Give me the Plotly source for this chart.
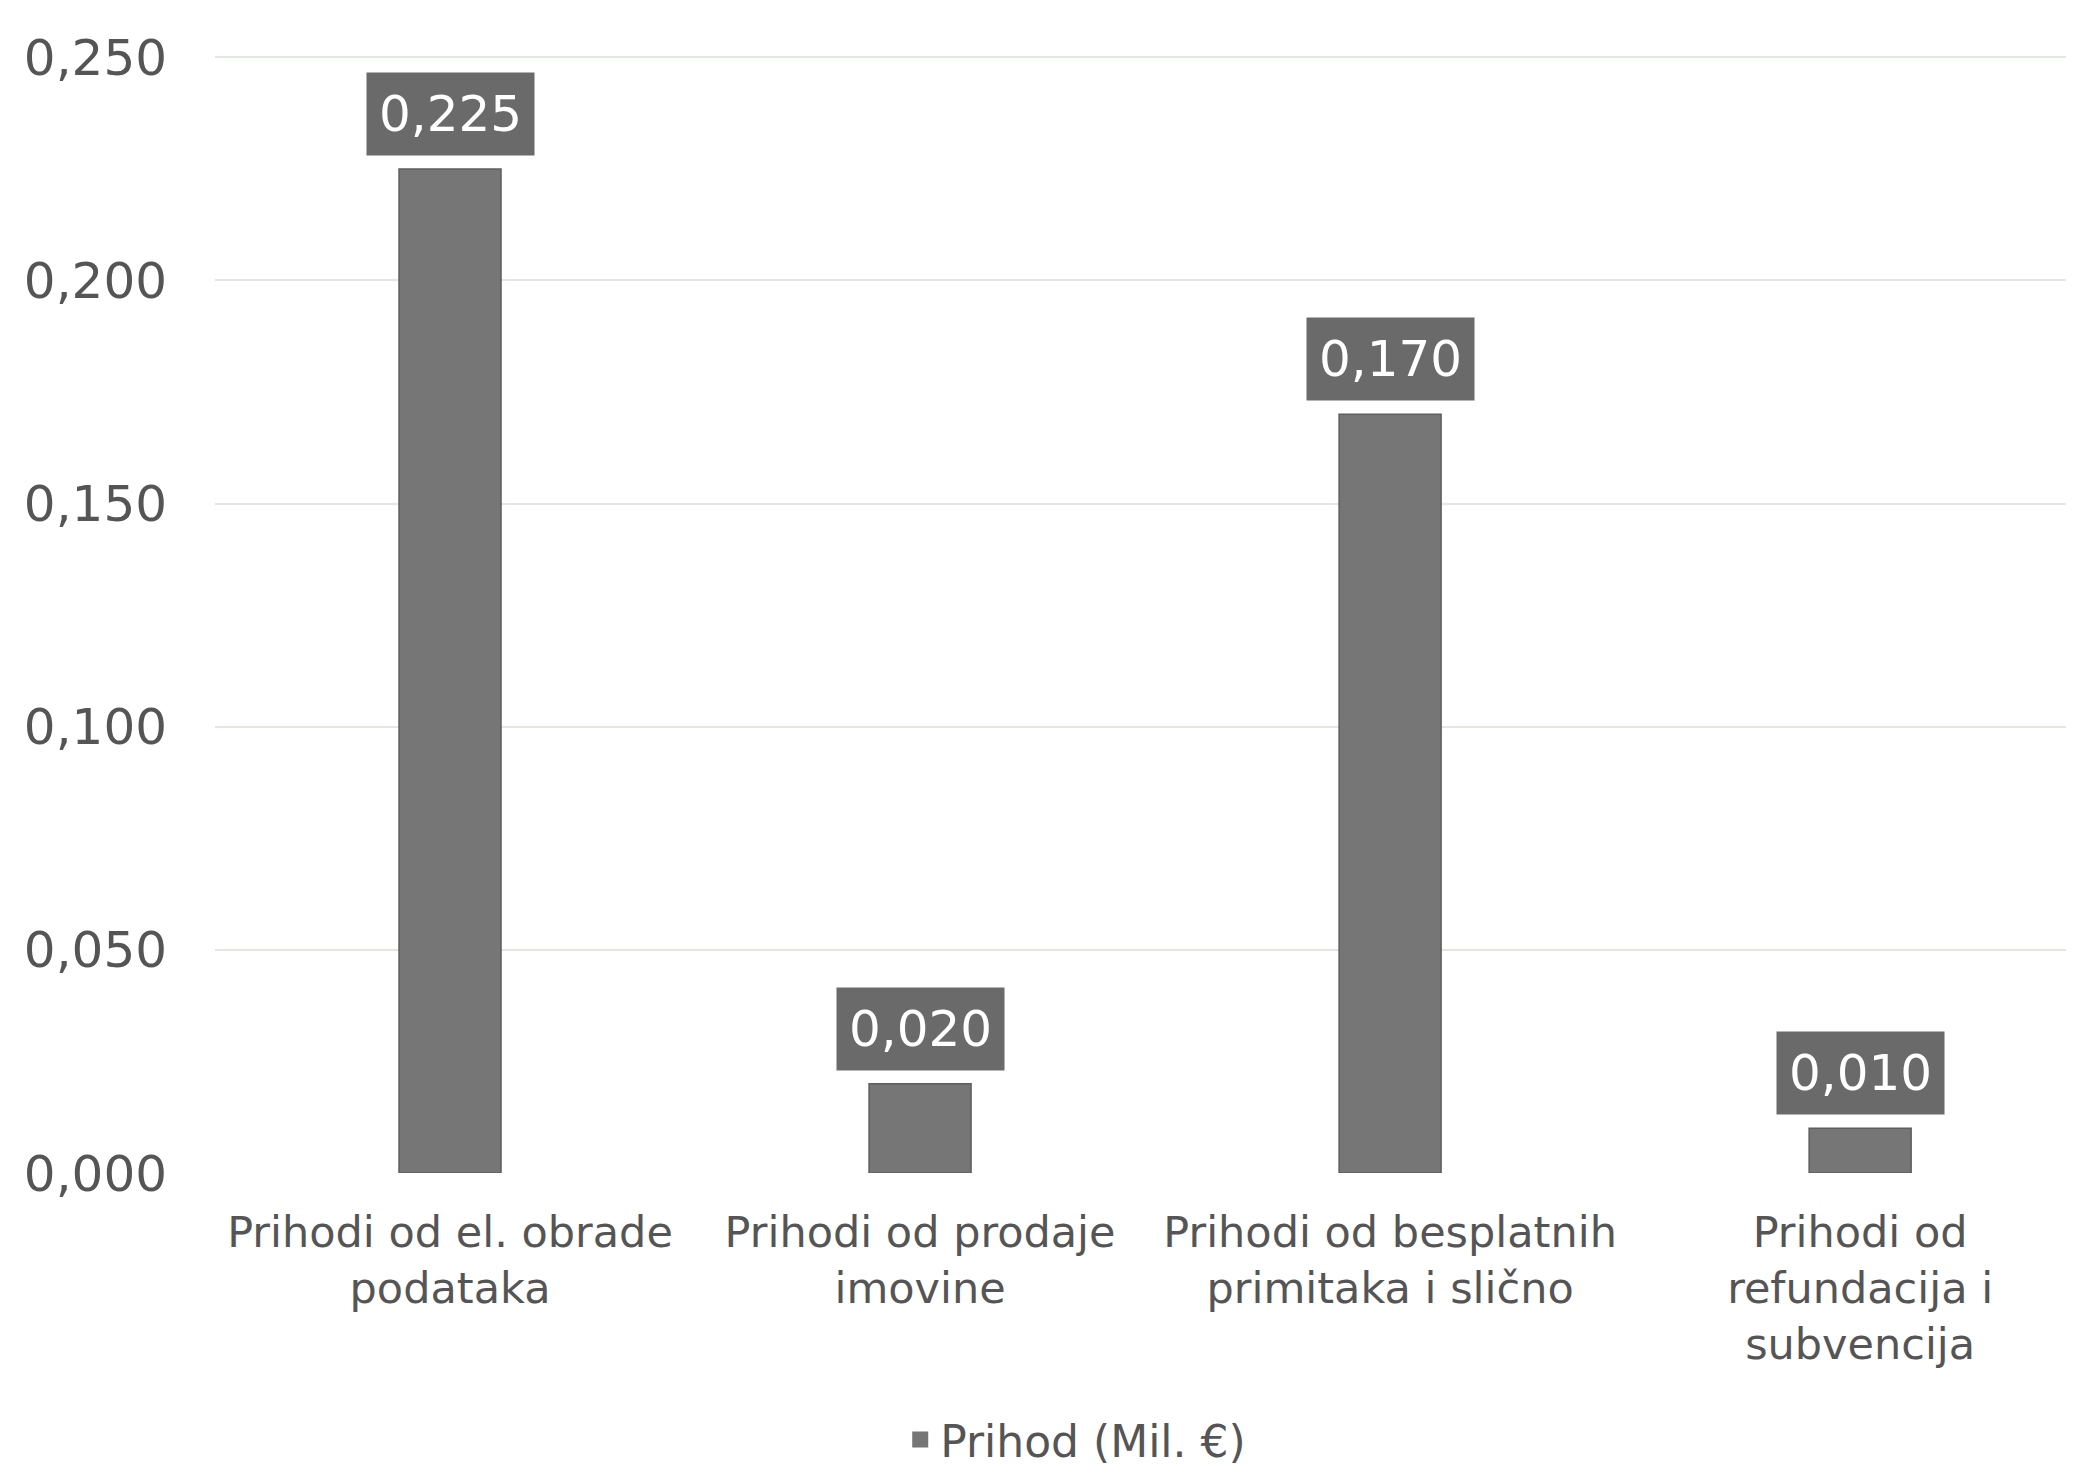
import plotly.graph_objects as go

# data
categories = [
    "Prihodi od el. obrade<br>podataka",
    "Prihodi od prodaje<br>imovine",
    "Prihodi od besplatnih<br>primitaka i slično",
    "Prihodi od<br>refundacija i<br>subvencija",
]
values = [0.225, 0.020, 0.170, 0.010]
series_name = "Prihod (Mil. €)"
y_ticks = [0.0, 0.05, 0.10, 0.15, 0.20, 0.25]

FONT = "DejaVu Sans"
BAR = "#767676"
LABEL_BG = "#6a6a6a"
TEXT = "#555555"

fig = go.Figure()
fig.add_bar(
    x=categories,
    y=values,
    name=series_name,
    width=0.217,
    showlegend=False,
    legendgroup="s",
    marker=dict(color=BAR, line=dict(color="#5e5e5e", width=1.5)),
)
# legend entry with a bigger square swatch, like the original
fig.add_scatter(
    x=[None], y=[None],
    mode="markers",
    name=series_name,
    legendgroup="s",
    marker=dict(symbol="square", size=22, color=BAR),
)

# value labels in dark boxes above the bars
for cat, v in zip(categories, values):
    fig.add_annotation(
        x=cat, y=v,
        text=f"{v:.3f}".replace(".", ","),
        showarrow=False,
        yanchor="bottom",
        yshift=13,
        bgcolor=LABEL_BG,
        borderpad=12,
        font=dict(family=FONT, size=50, color="white"),
    )

# page body has an 8px margin, so the figure is 8px smaller than the window
fig.update_layout(
    width=2066,
    height=1463,
    margin=dict(l=207, r=0, t=48, b=298, autoexpand=False),
    paper_bgcolor="white",
    plot_bgcolor="white",
    separators=", ",
    font=dict(family=FONT, color=TEXT),
    showlegend=True,
    legend=dict(
        orientation="h",
        x=0.463, xanchor="center",
        y=-0.239, yanchor="middle",
        font=dict(family=FONT, size=44, color=TEXT),
    ),
)
fig.update_xaxes(
    range=[-0.5, 3.455],
    showgrid=False,
    showline=False,
    ticks="",
    tickfont=dict(family=FONT, size=43, color=TEXT),
    ticklabelstandoff=30,
)
fig.update_yaxes(
    range=[0, 0.2503],
    tickvals=y_ticks,
    tickformat=".3f",
    showgrid=True,
    gridcolor="#e3e7e2",
    gridwidth=2,
    zeroline=False,
    showline=False,
    ticks="",
    tickfont=dict(family=FONT, size=50, color=TEXT),
    ticklabelstandoff=47,
)

fig.write_html("out.html")
